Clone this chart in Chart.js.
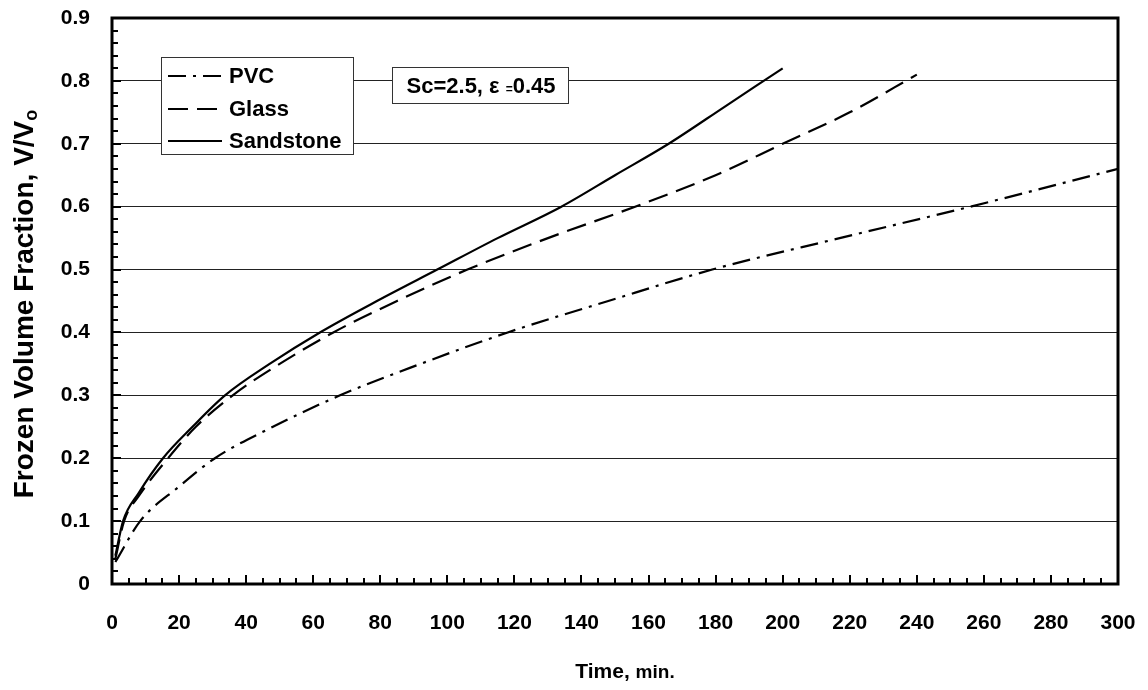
<!DOCTYPE html>
<html>
<head>
<meta charset="utf-8">
<script src="https://cdn.jsdelivr.net/npm/chart.js@4/dist/chart.umd.min.js"></script>
<style>
  html, body { margin: 0; padding: 0; background: #fff; }
  canvas { display: block; }
</style>
</head>
<body>
<canvas id="frozenChart" width="1148" height="690"></canvas>
<script>
// valeurs (temps en min, fraction V/Vo)
const pvcTime = [1, 8.4, 20, 30.7, 48, 68, 92, 118, 148, 179, 217, 256, 300];
const pvcValues = [0.035, 0.1, 0.155, 0.2, 0.25, 0.3, 0.35, 0.4, 0.45, 0.5, 0.55, 0.6, 0.66];

const glassTime = [1, 3.6, 8, 16.7, 25, 36, 50, 66, 85, 106, 130, 156, 180, 200, 220, 240];
const glassValues = [0.04, 0.1, 0.14, 0.2, 0.25, 0.3, 0.35, 0.4, 0.45, 0.5, 0.55, 0.6, 0.65, 0.7, 0.75, 0.81];

const sandTime = [1, 3.3, 8, 15.2, 24, 33.7, 47, 62, 79, 97, 115, 134, 150, 166, 183, 200];
const sandValues = [0.045, 0.1, 0.145, 0.2, 0.25, 0.3, 0.35, 0.4, 0.45, 0.5, 0.55, 0.6, 0.65, 0.7, 0.76, 0.82];

const xTicks = { min: 0, max: 300, step: 20 };
const yTicks = { min: 0, max: 0.9, step: 0.1 };

const seriesNames = ['PVC', 'Glass', 'Sandstone'];
const dashes = [[18, 7, 3, 7], [20, 9], []];
const annotation = { before: 'Sc=2.5, \u03b5 ', small: '=', after: '0.45' };

const FONT = '"Liberation Sans", Arial, sans-serif';

function toPoints(xs, ys) {
    return xs.map((x, i) => ({ x: x, y: ys[i] }));
}

function makeDataset(label, xs, ys, dash) {
    return {
        label: label,
        data: toPoints(xs, ys),
        borderColor: '#000',
        borderWidth: 2.2,
        borderDash: dash,
        pointRadius: 0,
        fill: false,
        cubicInterpolationMode: 'monotone'
    };
}

// décor : cadre, petites graduations, légende, encadré, titres des axes
const decorPlugin = {
    id: 'decor',
    afterDraw(chart) {
        const ctx = chart.ctx;
        const area = chart.chartArea;
        const xs = chart.scales.x;
        const ys = chart.scales.y;
        ctx.save();

        // graduations intérieures
        ctx.strokeStyle = '#000';
        ctx.lineWidth = 2;
        ctx.setLineDash([]);
        for (let v = 5; v < 300; v += 5) {
            const px = Math.round(xs.getPixelForValue(v));
            const len = v % 20 === 0 ? 9 : 6;
            ctx.beginPath();
            ctx.moveTo(px, area.bottom);
            ctx.lineTo(px, area.bottom - len);
            ctx.stroke();
        }
        for (let i = 1; i < 45; i++) {
            const py = Math.round(ys.getPixelForValue(i * 0.02));
            const len = i % 5 === 0 ? 9 : 6;
            ctx.beginPath();
            ctx.moveTo(area.left, py);
            ctx.lineTo(area.left + len, py);
            ctx.stroke();
        }

        // cadre
        ctx.lineWidth = 3;
        ctx.strokeRect(area.left, area.top, area.right - area.left, area.bottom - area.top);

        // légende
        ctx.fillStyle = '#fff';
        ctx.fillRect(161, 57, 192, 97);
        ctx.lineWidth = 1;
        ctx.strokeStyle = '#333';
        ctx.strokeRect(161.5, 57.5, 192, 97);
        const rows = [76, 109, 141];
        ctx.font = 'bold 22px ' + FONT;
        ctx.textBaseline = 'middle';
        ctx.textAlign = 'left';
        seriesNames.forEach((name, i) => {
            ctx.strokeStyle = '#000';
            ctx.lineWidth = 2.2;
            ctx.setLineDash(dashes[i]);
            ctx.beginPath();
            ctx.moveTo(168, rows[i]);
            ctx.lineTo(222, rows[i]);
            ctx.stroke();
            ctx.setLineDash([]);
            ctx.fillStyle = '#000';
            ctx.fillText(name, 229, rows[i] + 1);
        });

        // encadré Sc / epsilon
        ctx.fillStyle = '#fff';
        ctx.fillRect(392, 67, 176, 36);
        ctx.strokeStyle = '#333';
        ctx.lineWidth = 1;
        ctx.strokeRect(392.5, 67.5, 176, 36);
        ctx.fillStyle = '#000';
        ctx.textBaseline = 'alphabetic';
        ctx.font = 'bold 22px ' + FONT;
        const w1 = ctx.measureText(annotation.before).width;
        const w3 = ctx.measureText(annotation.after).width;
        ctx.font = 'bold 12px ' + FONT;
        const w2 = ctx.measureText(annotation.small).width;
        let ax = 481 - (w1 + w2 + w3) / 2;
        ctx.font = 'bold 22px ' + FONT;
        ctx.fillText(annotation.before, ax, 93);
        ax += w1;
        ctx.font = 'bold 12px ' + FONT;
        ctx.fillText(annotation.small, ax, 93);
        ax += w2;
        ctx.font = 'bold 22px ' + FONT;
        ctx.fillText(annotation.after, ax, 93);

        // titre axe x
        ctx.font = 'bold 21px ' + FONT;
        const tA = 'Time, ';
        const wA = ctx.measureText(tA).width;
        ctx.font = 'bold 19px ' + FONT;
        const tB = 'min.';
        const wB = ctx.measureText(tB).width;
        let tx = 625 - (wA + wB) / 2;
        ctx.font = 'bold 21px ' + FONT;
        ctx.fillText(tA, tx, 678);
        ctx.font = 'bold 19px ' + FONT;
        ctx.fillText(tB, tx + wA, 678);

        // titre axe y
        ctx.translate(33, 304);
        ctx.rotate(-Math.PI / 2);
        ctx.font = 'bold 28px ' + FONT;
        const yA = 'Frozen Volume Fraction, V/V';
        const wYA = ctx.measureText(yA).width;
        ctx.font = 'bold 18px ' + FONT;
        const wYB = ctx.measureText('o').width;
        const sy = -(wYA + wYB) / 2;
        ctx.font = 'bold 28px ' + FONT;
        ctx.fillText(yA, sy, 0);
        ctx.font = 'bold 18px ' + FONT;
        ctx.fillText('o', sy + wYA, 4);

        ctx.restore();
    }
};

new Chart(document.getElementById('frozenChart').getContext('2d'), {
    type: 'line',
    data: {
        datasets: [
            makeDataset(seriesNames[0], pvcTime, pvcValues, dashes[0]),
            makeDataset(seriesNames[1], glassTime, glassValues, dashes[1]),
            makeDataset(seriesNames[2], sandTime, sandValues, dashes[2])
        ]
    },
    options: {
        responsive: false,
        animation: false,
        devicePixelRatio: 1,
        layout: { padding: { top: 18, right: 30, left: 0, bottom: 0 } },
        plugins: {
            legend: { display: false },
            tooltip: { enabled: false },
            title: { display: false }
        },
        scales: {
            x: {
                type: 'linear',
                min: xTicks.min,
                max: xTicks.max,
                grid: { display: false, drawTicks: false },
                border: { display: false },
                ticks: {
                    stepSize: xTicks.step,
                    maxRotation: 0,
                    padding: 27,
                    color: '#000',
                    font: { family: FONT, size: 21, weight: 'bold' }
                },
                afterFit(scale) {
                    scale.height = 106;
                    scale.paddingLeft = 0;
                    scale.paddingRight = 0;
                }
            },
            y: {
                min: yTicks.min,
                max: yTicks.max,
                grid: { color: '#222', lineWidth: 1, drawTicks: false },
                border: { display: false },
                ticks: {
                    stepSize: yTicks.step,
                    padding: 22,
                    color: '#000',
                    font: { family: FONT, size: 21, weight: 'bold' },
                    callback: v => (v === 0 ? '0' : v.toFixed(1))
                },
                afterFit(scale) {
                    scale.width = 112;
                    scale.paddingTop = 0;
                    scale.paddingBottom = 0;
                }
            }
        }
    },
    plugins: [decorPlugin]
});
</script>
</body>
</html>
